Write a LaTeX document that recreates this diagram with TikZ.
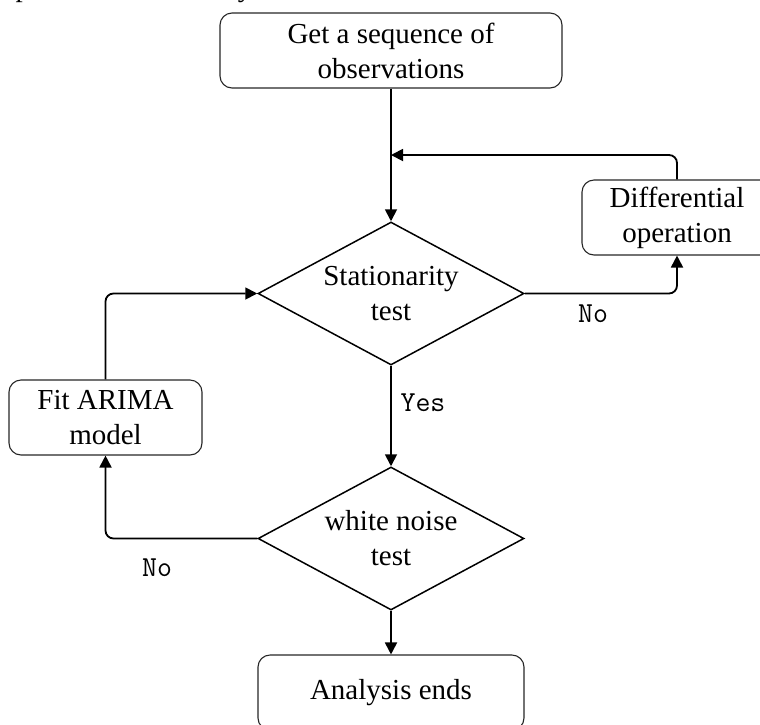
\documentclass[tikz,border=0pt]{standalone}
\usepackage{fontspec}
\setmainfont{Liberation Serif}
\usetikzlibrary{shapes.geometric,arrows.meta}
\begin{document}
\begin{tikzpicture}[x=1pt,y=-1pt,
  txt/.style={font=\fontsize{29}{35}\selectfont, align=center},
  box/.style={txt, draw=black!85, line width=1.1pt, rounded corners=12pt,
    minimum height=75pt, inner sep=0pt},
  dia/.style={txt, draw=black, line width=1.5pt, diamond, aspect=1.86,
    inner sep=0pt, minimum width=266pt, minimum height=143pt},
  conn/.style={draw=black, line width=1.8pt, rounded corners=8pt},
  arr/.style={conn, -{Triangle[length=12pt,width=12pt]}},
  lab/.style={font=\ttfamily\fontsize{29}{31}\selectfont, inner sep=0pt}]
\useasboundingbox (0,0) rectangle (760,724);
\clip (0,0) rectangle (760,724);
% cut-off caption line at the top
\node[font=\fontsize{29}{35}\selectfont, anchor=base west, inner sep=0pt] (cap) at (-37,-4)
  {The prediction and analysis of the model};
% nodes
\node[box, minimum width=342pt] (top) at (391,50.5) {Get a sequence of\\observations};
\node[dia] (stat) at (391,293.5) {Stationarity\\test};
\node[box, minimum width=190pt] (diff) at (677,217.5) {Differential\\operation};
\node[box, minimum width=193pt] (fit) at (105.5,417.5) {Fit ARIMA\\model};
\node[dia] (wn) at (391,538.5) {white noise\\test};
\node[box, minimum width=266pt] (end) at (391,692.5) {Analysis ends};
\coordinate (merge) at (391,155);
% connectors
\draw[arr] (top.south) -- (stat.north);
\draw[arr] (diff.north) |- (merge);
\draw[arr] (stat.east) -| (diff.south);
\draw[arr] (stat.south) -- (wn.north);
\draw[arr] (wn.west) -| (fit.south);
\draw[arr] (fit.north) |- (stat.west);
\draw[arr] (wn.south) -- (end.north);
% labels
\node[lab] (noA) at (593,314) {No};
\node[lab] (yes) at (423,403) {Yes};
\node[lab] (noB) at (157,568) {No};
\end{tikzpicture}
\end{document}
